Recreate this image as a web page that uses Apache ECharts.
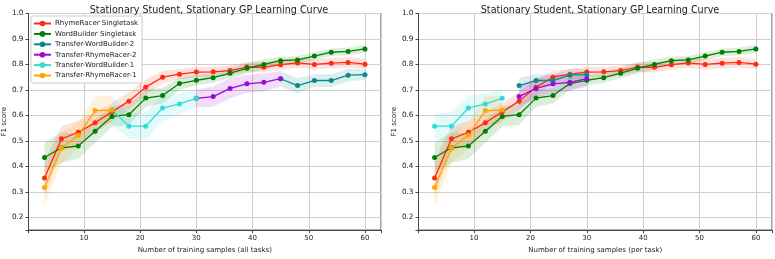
<!DOCTYPE html>
<html>
<head>
<meta charset="utf-8">
<script src="https://cdn.jsdelivr.net/npm/echarts@6/dist/echarts.min.js"></script>
<style>
html,body{margin:0;padding:0;background:#fff;}
#c{width:775px;height:259px;}
</style>
</head>
<body>
<div id="c"></div>
<script>
// ---- data ----
const seriesNames = ['RhymeRacer Singletask','WordBuilder Singletask','Transfer-WordBuilder-2','Transfer-RhymeRacer-2','Transfer-WordBuilder-1','Transfer-RhymeRacer-1'];
const titleText = 'Stationary Student, Stationary GP Learning Curve';
const xNameAll = 'Number of training samples (all tasks)';
const xNamePer = 'Number of training samples (per task)';
const yName = 'F1 score';

const singleX = [3,6,9,12,15,18,21,24,27,30,33,36,39,42,45,48,51,54,57,60];
const rrSingle = [0.354,0.508,0.534,0.571,0.614,0.656,0.711,0.750,0.762,0.770,0.771,0.776,0.790,0.789,0.799,0.806,0.800,0.805,0.808,0.801];
const rrSingleErr = [0.07,0.05,0.045,0.04,0.035,0.035,0.03,0.025,0.02,0.02,0.02,0.02,0.02,0.02,0.02,0.02,0.02,0.02,0.02,0.02];
const wbSingle = [0.435,0.473,0.480,0.538,0.596,0.603,0.668,0.678,0.725,0.738,0.748,0.766,0.785,0.800,0.815,0.818,0.833,0.848,0.851,0.861];
const wbSingleErr = [0.06,0.06,0.05,0.045,0.04,0.04,0.035,0.03,0.025,0.02,0.02,0.02,0.02,0.02,0.015,0.015,0.015,0.015,0.015,0.015];

// transfer series (values per step)
const trr1 = [0.317,0.472,0.522,0.619,0.621];
const trr1Err = [0.07,0.06,0.05,0.055,0.055];
const twb1 = [0.558,0.558,0.629,0.645,0.667];
const twb1Err = [0.05,0.055,0.05,0.04,0.035];
const trr2 = [0.674,0.706,0.724,0.730,0.744];
const trr2Err = [0.04,0.04,0.035,0.035,0.03];
const twb2 = [0.717,0.737,0.737,0.758,0.760];
const twb2Err = [0.03,0.025,0.025,0.025,0.02];

// x positions: all tasks (left) and per task (right)
const trr1XAll = [3,6,9,12,15];
const twb1XAll = [18,21,24,27,30];
const trr2XAll = [33,36,39,42,45];
const twb2XAll = [48,51,54,57,60];
const trr1XPer = [3,6,9,12,15];
const twb1XPer = [3,6,9,12,15];
const trr2XPer = [18,21,24,27,30];
const twb2XPer = [18,21,24,27,30];

const colors = {
  rr: '#ff2a14', wb: '#008000', twb2: '#078b8b', trr2: '#9a0ad8', twb1: '#30ddd5', trr1: '#ffa500'
};
const bandAlpha = 0.14;

// ---- helpers ----
function hexToRgba(h, a){
  const r=parseInt(h.slice(1,3),16), g=parseInt(h.slice(3,5),16), b=parseInt(h.slice(5,7),16);
  return 'rgba('+r+','+g+','+b+','+a+')';
}
function lineSeries(name, xs, ys, color, ai){
  return {
    name: name, type:'line', xAxisIndex: ai, yAxisIndex: ai,
    data: xs.map((x,i)=>[x, ys[i]]),
    symbol:'circle', symbolSize:5, showSymbol:true,
    lineStyle:{color:color, width:1.3}, itemStyle:{color:color},
    z: 3, animation:false, clip:true
  };
}
function bandSeries(xs, ys, errs, color, ai){
  const pts = xs.map((x,i)=>[x, ys[i]-errs[i], ys[i]+errs[i]]);
  return {
    type:'custom', xAxisIndex: ai, yAxisIndex: ai, data: pts, silent:true, z:1, clip:true,
    encode:{x:0, y:[1,2]}, animation:false,
    renderItem: function(params, api){
      if (params.dataIndex !== 0) return null;
      const up = pts.map(p=>api.coord([p[0], p[2]]));
      const lo = pts.map(p=>api.coord([p[0], p[1]])).reverse();
      return {type:'polygon', shape:{points: up.concat(lo)}, style:{fill: hexToRgba(color, bandAlpha)}};
    }
  };
}
function withPrev(prevX, prevY, xs, ys){
  return [[prevX[prevX.length-1]].concat(xs), [prevY[prevY.length-1]].concat(ys)];
}

const font = 'DejaVu Sans';
function xAxisCfg(ai, name){
  return {
    type:'value', gridIndex: ai, min:0.15, max:62.85, splitNumber:6,
    name: name, nameLocation:'middle', nameGap:14,
    nameTextStyle:{fontFamily:font, fontSize:7, color:'#222'},
    axisLine:{show:true, onZero:false, lineStyle:{color:'#444', width:1}},
    axisTick:{show:true, length:3, lineStyle:{color:'#444'}},
    axisLabel:{margin:5, fontFamily:font, fontSize:7, color:'#222',
      formatter: v => (Math.abs(v/10 - Math.round(v/10)) < 1e-6 ? String(Math.round(v)) : '')},
    splitLine:{show:true, lineStyle:{color:'#cfcfcf', width:1}}
  };
}
function yAxisCfg(ai){
  return {
    type:'value', gridIndex: ai, min:0.15, max:1.0, splitNumber:8,
    name: yName, nameLocation:'middle', nameGap:19,
    nameTextStyle:{fontFamily:font, fontSize:7, color:'#222'},
    axisLine:{show:true, onZero:false, lineStyle:{color:'#444', width:1}},
    axisTick:{show:true, length:3, lineStyle:{color:'#444'}},
    axisLabel:{margin:5, fontFamily:font, fontSize:7.3, color:'#222',
      formatter: v => (Math.abs(v*10 - Math.round(v*10)) < 1e-6 ? v.toFixed(1) : '')},
    splitLine:{show:true, lineStyle:{color:'#cfcfcf', width:1}}
  };
}

// left chart (all tasks) with connection points
const twb1L = withPrev(trr1XAll, trr1, twb1XAll, twb1);
const twb1LErr = [trr1Err[trr1Err.length-1]].concat(twb1Err);
const trr2L = withPrev(twb1XAll, twb1, trr2XAll, trr2);
const trr2LErr = [twb1Err[twb1Err.length-1]].concat(trr2Err);
const twb2L = withPrev(trr2XAll, trr2, twb2XAll, twb2);
const twb2LErr = [trr2Err[trr2Err.length-1]].concat(twb2Err);

const series = [
  bandSeries(singleX, rrSingle, rrSingleErr, colors.rr, 0),
  bandSeries(singleX, wbSingle, wbSingleErr, colors.wb, 0),
  bandSeries(twb2L[0], twb2L[1], twb2LErr, colors.twb2, 0),
  bandSeries(trr2L[0], trr2L[1], trr2LErr, colors.trr2, 0),
  bandSeries(twb1L[0], twb1L[1], twb1LErr, colors.twb1, 0),
  bandSeries(trr1XAll, trr1, trr1Err, colors.trr1, 0),
  lineSeries(seriesNames[0], singleX, rrSingle, colors.rr, 0),
  lineSeries(seriesNames[1], singleX, wbSingle, colors.wb, 0),
  lineSeries(seriesNames[2], twb2L[0], twb2L[1], colors.twb2, 0),
  lineSeries(seriesNames[3], trr2L[0], trr2L[1], colors.trr2, 0),
  lineSeries(seriesNames[4], twb1L[0], twb1L[1], colors.twb1, 0),
  lineSeries(seriesNames[5], trr1XAll, trr1, colors.trr1, 0),
  bandSeries(singleX, rrSingle, rrSingleErr, colors.rr, 1),
  bandSeries(singleX, wbSingle, wbSingleErr, colors.wb, 1),
  bandSeries(twb2XPer, twb2, twb2Err, colors.twb2, 1),
  bandSeries(trr2XPer, trr2, trr2Err, colors.trr2, 1),
  bandSeries(twb1XPer, twb1, twb1Err, colors.twb1, 1),
  bandSeries(trr1XPer, trr1, trr1Err, colors.trr1, 1),
  lineSeries(seriesNames[0], singleX, rrSingle, colors.rr, 1),
  lineSeries(seriesNames[1], singleX, wbSingle, colors.wb, 1),
  lineSeries(seriesNames[2], twb2XPer, twb2, colors.twb2, 1),
  lineSeries(seriesNames[3], trr2XPer, trr2, colors.trr2, 1),
  lineSeries(seriesNames[4], twb1XPer, twb1, colors.twb1, 1),
  lineSeries(seriesNames[5], trr1XPer, trr1, colors.trr1, 1)
];

const chart = echarts.init(document.getElementById('c'), null, {renderer:'canvas'});
chart.setOption({
  backgroundColor:'#fff',
  animation:false,
  title:[
    {text:titleText, left:204, top:0, textAlign:'center', textStyle:{fontFamily:font, fontSize:9.6, fontWeight:'normal', color:'#222'}},
    {text:titleText, left:595, top:0, textAlign:'center', textStyle:{fontFamily:font, fontSize:9.6, fontWeight:'normal', color:'#222'}}
  ],
  legend:{
    data: seriesNames, orient:'vertical', left:31, top:16,
    itemWidth:17, itemHeight:7, itemGap:3.4,
    padding:[4,4,4,2],
    borderColor:'#ccc', borderWidth:1, borderRadius:2, backgroundColor:'#fff',
    textStyle:{fontFamily:font, fontSize:7, color:'#222', padding:[0,0,0,-1]}
  },
  grid:[
    {left:27.3, right:394, top:13.5, bottom:24.5, show:true, borderColor:'#444', borderWidth:1, backgroundColor:'transparent'},
    {left:418.5, right:2.7, top:13.5, bottom:24.5, show:true, borderColor:'#444', borderWidth:1, backgroundColor:'transparent'}
  ],
  xAxis:[xAxisCfg(0, xNameAll), xAxisCfg(1, xNamePer)],
  yAxis:[yAxisCfg(0), yAxisCfg(1)],
  series: series
});
</script>
</body>
</html>
